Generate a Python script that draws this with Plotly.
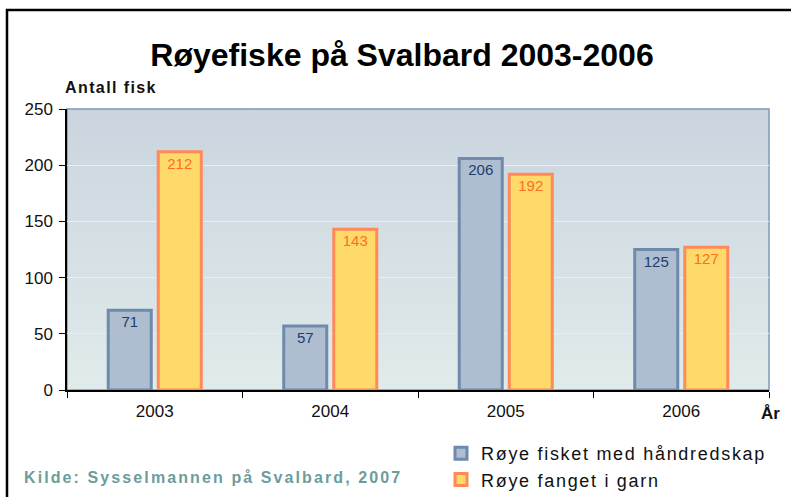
import base64
import plotly.graph_objects as go

years = ["2003", "2004", "2005", "2006"]
handredskap = [71, 57, 206, 125]
garn = [212, 143, 192, 127]
series_names = ["Røye fisket med håndredskap", "Røye fanget i garn"]

W, H = 791, 497
L, R, T, B = 67, 22, 109, 107
PW, PH = W - L - R, H - T - B


def px(x):
    return (x - L) / PW


def py(y):
    return (H - B - y) / PH


FONT = "Liberation Sans, Arial, sans-serif"

svg = (
    '<svg xmlns="http://www.w3.org/2000/svg" width="100" height="100" preserveAspectRatio="none">'
    '<defs><linearGradient id="g" x1="0" y1="0" x2="0" y2="1">'
    '<stop offset="0" stop-color="#cad4de"/><stop offset="1" stop-color="#e0ebeb"/>'
    '</linearGradient></defs><rect width="100" height="100" fill="url(#g)"/></svg>'
)
bg_uri = "data:image/svg+xml;base64," + base64.b64encode(svg.encode()).decode()


def spaced(s, sp):
    return f'<span style="letter-spacing:{sp}px">{s}</span>'


fig = go.Figure()
fig.add_trace(go.Bar(
    x=years, y=handredskap, name=spaced(series_names[0], 1.7),
    marker=dict(color="#aebdcf", line=dict(color="#6e8bab", width=3)),
    text=handredskap, textposition="inside", insidetextanchor="end",
    textfont=dict(family=FONT, size=15, color="#1c3f6e"),
    textangle=0,
))
fig.add_trace(go.Bar(
    x=years, y=garn, name=spaced(series_names[1], 1.7),
    marker=dict(color="#ffd96a", line=dict(color="#ff8a58", width=3)),
    text=garn, textposition="inside", insidetextanchor="end",
    textfont=dict(family=FONT, size=15, color="#ff6f1c"),
    textangle=0,
))

fig.update_layout(
    width=W, height=H,
    margin=dict(l=L, r=R, t=T, b=B, autoexpand=False),
    paper_bgcolor="white",
    plot_bgcolor="#d5dfe4",
    barmode="group", bargap=0.43, bargroupgap=0.14,
    font=dict(family=FONT, size=17, color="#111111"),
    title=dict(
        text="<b>Røyefiske på Svalbard 2003-2006</b>",
        x=402 / W, xanchor="center", y=1 - 55 / H, yanchor="middle",
        font=dict(family=FONT, size=32, color="#000000"),
    ),
    showlegend=True,
    legend=dict(
        x=px(441), y=py(435), xanchor="left", yanchor="top",
        font=dict(family=FONT, size=18, color="#111111"),
        bgcolor="rgba(0,0,0,0)", itemwidth=30, tracegroupgap=0,
    ),
    xaxis=dict(
        type="category", tickson="boundaries", ticks="outside", ticklen=6,
        tickcolor="#000000", showline=True, linecolor="#000000", linewidth=1.5,
        showgrid=False, tickfont=dict(family=FONT, size=17, color="#111111"),
        ticklabelstandoff=5, fixedrange=True,
    ),
    yaxis=dict(
        range=[0, 250], dtick=50, ticks="outside", ticklen=6, tickcolor="#000000",
        showline=True, linecolor="#000000", linewidth=1.5,
        showgrid=True, gridcolor="#e8eef2", gridwidth=1, zeroline=False,
        tickfont=dict(family=FONT, size=17, color="#111111"),
        ticklabelstandoff=3, fixedrange=True,
    ),
    images=[dict(
        source=bg_uri, xref="paper", yref="paper", x=0, y=1, sizex=1, sizey=1,
        sizing="stretch", xanchor="left", yanchor="top", layer="below",
    )],
    shapes=[
        dict(type="rect", xref="paper", yref="paper", x0=0, x1=1, y0=0, y1=1,
             line=dict(color="#7d99b7", width=1.5), layer="below"),
        dict(type="rect", xref="paper", yref="paper",
             x0=px(7), x1=px(810), y0=py(520), y1=py(10),
             line=dict(color="#000000", width=2.5), fillcolor="rgba(0,0,0,0)", layer="above"),
    ],
    annotations=[
        dict(text=spaced("<b>Antall fisk</b>", 1.4),
             xref="paper", yref="paper", x=px(63), y=py(88), xanchor="left", yanchor="middle",
             showarrow=False, font=dict(family=FONT, size=16, color="#111111")),
        dict(text="<b>År</b>", xref="paper", yref="paper", x=px(759), y=py(413),
             xanchor="left", yanchor="middle", showarrow=False,
             font=dict(family=FONT, size=17, color="#111111")),
        dict(text=spaced("<b>Kilde: Sysselmannen på Svalbard, 2007</b>", 2.1),
             xref="paper", yref="paper", x=px(22), y=py(477), xanchor="left", yanchor="middle",
             showarrow=False, font=dict(family=FONT, size=16, color="#6b9d9d")),
    ],
)

fig.write_html(
    "out.html",
    config={"displayModeBar": False, "staticPlot": False},
    post_script="document.body.style.margin='0';document.body.style.overflow='hidden';",
)
